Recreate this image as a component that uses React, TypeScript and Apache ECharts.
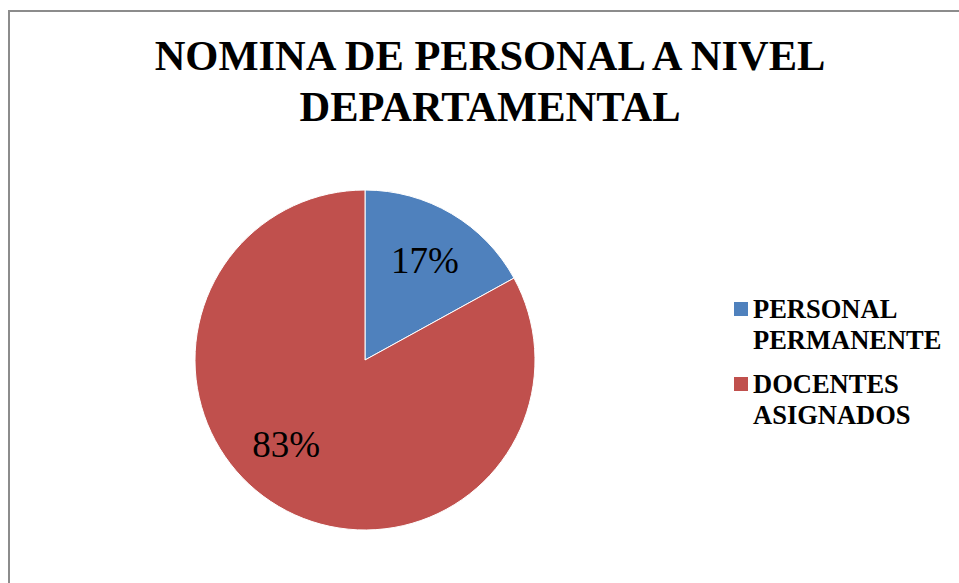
import React, { useEffect, useRef } from "react";
import * as echarts from "echarts";

const titleText = "NOMINA DE PERSONAL A NIVEL\nDEPARTAMENTAL";
const categories = ["PERSONAL PERMANENTE", "DOCENTES ASIGNADOS"];
const values = [17, 83];
const colors = ["#4F81BD", "#C0504D"];

export default function App() {
  const ref = useRef<HTMLDivElement>(null);
  useEffect(() => {
    if (!ref.current) return;
    const chart = echarts.init(ref.current, undefined, { renderer: "svg" });
    const serif = "Times New Roman, Liberation Serif, Tinos, serif";
    // label placement nudges, mimicking the reference's label positions
    const labelCfg = [
      { padding: [0, 0, 0, 30], lineHeight: 48, formatter: (p: any) => p.value + "%\n" },
      { padding: [0, 68, 0, 0], lineHeight: 18, formatter: (p: any) => " \n" + p.value + "%" },
    ];
    chart.setOption({
      animation: false,
      backgroundColor: "#fff",
      title: {
        text: titleText,
        left: 490,
        top: 30,
        textAlign: "center",
        textVerticalAlign: "top",
        padding: 0,
        textStyle: {
          fontFamily: serif,
          fontWeight: "bold",
          fontSize: 42.5,
          lineHeight: 51,
          color: "#000",
        },
      },
      legend: {
        orient: "vertical",
        left: 734,
        top: 293.5,
        padding: 0,
        itemGap: 13,
        itemWidth: 14,
        itemHeight: 62,
        icon: "path://M0,0M0,8.5h14v14h-14zM0,62",
        itemStyle: { borderWidth: 0 },
        formatter: (n: string) => n.replace(" ", "\n"),
        textStyle: {
          fontFamily: serif,
          fontWeight: "bold",
          fontSize: 26.5,
          lineHeight: 31,
          color: "#000",
        },
        data: categories,
      },
      graphic: [
        {
          type: "rect",
          shape: { x: 9, y: 11, width: 1000, height: 1000 },
          style: { fill: "none", stroke: "#8c8c8c", lineWidth: 2 },
          silent: true,
        },
      ],
      series: [
        {
          type: "pie",
          center: [365, 360],
          radius: [0, 170],
          startAngle: 90,
          clockwise: true,
          avoidLabelOverlap: false,
          itemStyle: { borderColor: "#fff", borderWidth: 1 },
          label: {
            show: true,
            position: "inside",
            fontFamily: serif,
            fontSize: 37,
            color: "#000",
          },
          labelLine: { show: false },
          emphasis: { disabled: true },
          data: categories.map((c, i) => ({
            name: c,
            value: values[i],
            itemStyle: { color: colors[i] },
            label: labelCfg[i],
          })),
        },
      ],
    });
    return () => chart.dispose();
  }, []);
  return (
    <div
      ref={ref}
      style={{ position: "fixed", left: 0, top: 0, width: 959, height: 583 }}
    />
  );
}
